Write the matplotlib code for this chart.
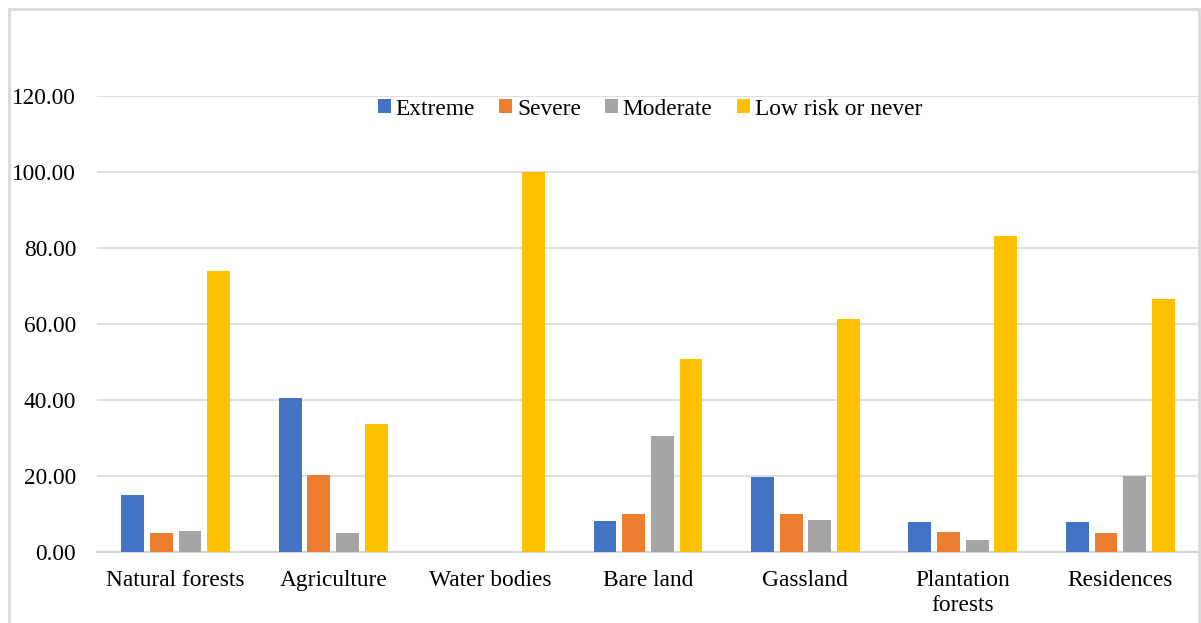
import matplotlib
matplotlib.use("Agg")
import matplotlib.pyplot as plt
import numpy as np
from matplotlib.patches import Rectangle

plt.rcParams['font.family'] = ['Liberation Serif', 'DejaVu Serif']

categories = ["Natural forests", "Agriculture", "Water bodies", "Bare land",
              "Gassland", "Plantation\nforests", "Residences"]
series_names = ["Extreme", "Severe", "Moderate", "Low risk or never"]
extreme = [15.0, 40.5, 0.0, 8.1, 19.8, 8.0, 7.9]
severe = [5.1, 20.2, 0.0, 10.1, 10.1, 5.3, 5.1]
moderate = [5.4, 5.1, 0.0, 30.6, 8.4, 3.2, 20.0]
low_risk = [74.0, 33.7, 100.0, 50.7, 61.3, 83.2, 66.5]
yticks = [0, 20, 40, 60, 80, 100, 120]

colors = ["#4472C4", "#ED7D31", "#A5A5A5", "#FFC000"]

W, H = 1201, 623
fig = plt.figure(figsize=(W / 100, H / 100), dpi=100)
ax = fig.add_axes([97 / W, 1 - 552 / H, (1199 - 97) / W, (552 - 96) / H])

x = np.arange(len(categories))
slot = 0.182
bw = 0.145
all_series = [extreme, severe, moderate, low_risk]
handles = []
for i, (vals, c, name) in enumerate(zip(all_series, colors, series_names)):
    b = ax.bar(x + (i - 1.5) * slot, vals, width=bw, color=c, label=name, zorder=3)
    handles.append(b)

ax.set_xlim(-0.5, len(categories) - 0.5)
ax.set_ylim(0, 120)
ax.set_yticks(yticks)
ax.set_yticklabels([f"{v:.2f}" for v in yticks], fontsize=16.8)
ax.set_xticks(x)
ax.set_xticklabels(categories, fontsize=16.8, linespacing=1.25)
ax.tick_params(axis='both', length=0)
ax.tick_params(axis='y', pad=15)
ax.tick_params(axis='x', pad=13)
ax.grid(axis='y', color="#d9d9d9", linewidth=1.2, zorder=0)
for s in ["top", "right", "left"]:
    ax.spines[s].set_visible(False)
ax.spines["bottom"].set_color("#d0d0d0")
ax.spines["bottom"].set_linewidth(1.2)

fig.legend(handles=handles, labels=series_names, loc="center",
           bbox_to_anchor=(650 / W, 1 - 109 / H), ncol=4, frameon=False,
           fontsize=16.8, handlelength=0.55, handleheight=0.55,
           handletextpad=0.2, columnspacing=1.05)

# outer chart frame
fig.patches.append(Rectangle((9 / W, -0.05), (1199 - 9) / W, 1 - 9 / H + 0.05,
                             transform=fig.transFigure, fill=False,
                             edgecolor="#d9d9d9", linewidth=2.0))

fig.savefig("out.png", dpi=100)
